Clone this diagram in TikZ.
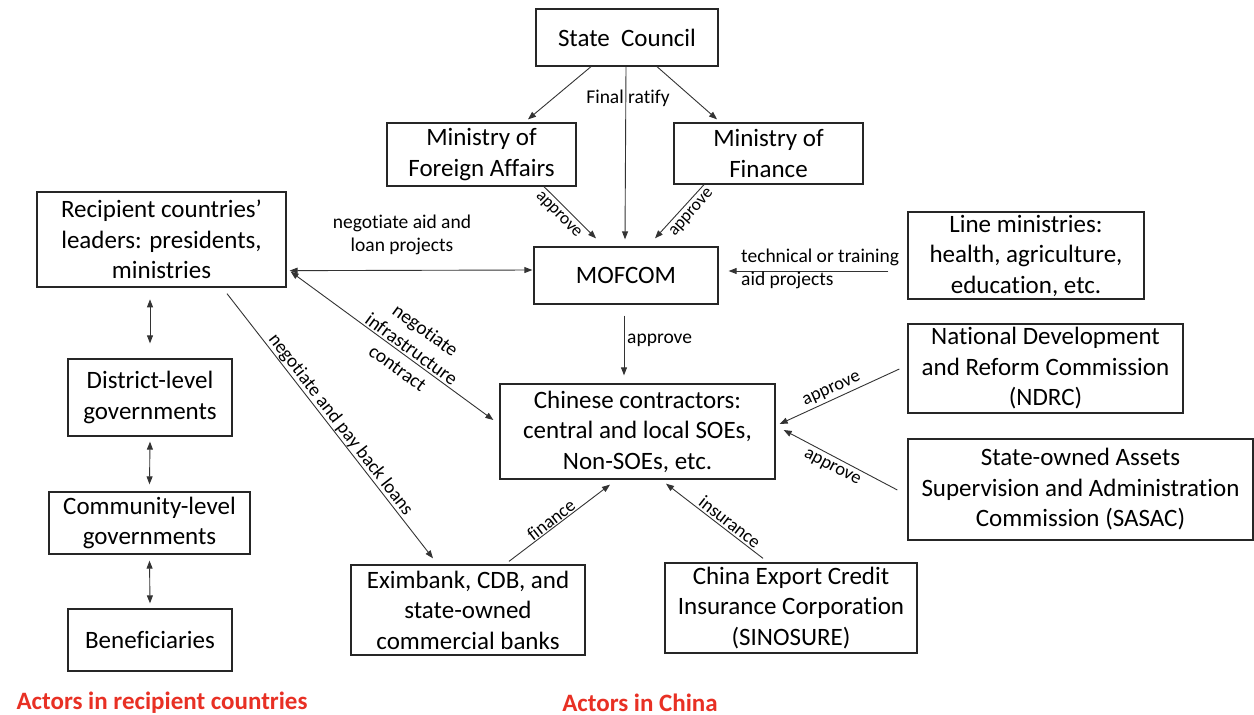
\documentclass[tikz,border=0pt]{standalone}
\usepackage{fontspec}
\setmainfont{Carlito}[Ligatures={NoCommon}]
\usetikzlibrary{calc,arrows.meta}
\definecolor{actred}{RGB}{232,48,36}
\tikzset{
  box/.style={draw=black!85, line width=1.3pt, align=center, inner sep=0pt,
    font=\fontsize{25}{30.5}\selectfont},
  conn/.style={draw=black!80, line width=0.9pt, -{Triangle[length=8pt,width=6pt]}},
  biconn/.style={draw=black!80, line width=0.9pt,
    {Triangle[length=8pt,width=6pt]}-{Triangle[length=8pt,width=6pt]}},
  lbl/.style={font=\fontsize{19.5}{23.5}\selectfont, inner sep=0pt},
  slbl/.style={font=\fontsize{17.5}{21}\selectfont, inner sep=0pt},
  mlbl/.style={font=\fontsize{18.5}{22}\selectfont, inner sep=0pt},
  actor/.style={font=\fontsize{25}{30}\selectfont\bfseries, text=actred, inner sep=0pt},
}
\begin{document}
\begin{tikzpicture}[x=1pt,y=-1pt]
\useasboundingbox (0,0) rectangle (1254,715);
% boxes
\node[box, minimum width=182pt, minimum height=57pt] (sc) at (627,37.5) {State\ \ Council};
\node[box, minimum width=189pt, minimum height=63pt] (mfa) at (481.5,154.5) {Ministry of\\Foreign Affairs};
\node[box, minimum width=189pt, minimum height=61pt] (mof) at (768.5,153.5) {Ministry of\\Finance};
\node[box, minimum width=184pt, minimum height=57pt] (mofcom) at (626,275.5) {MOFCOM};
\node[box, minimum width=249pt, minimum height=95pt] (rec) at (161.5,239.5) {Recipient countries’\\leaders: presidents,\\ministries};
\node[box, minimum width=164pt, minimum height=77pt] (dist) at (150,397.5) {District-level\\governments};
\node[box, minimum width=201pt, minimum height=62pt] (comm) at (149.5,523) {Community-level\\governments};
\node[box, minimum width=164pt, minimum height=62pt] (ben) at (150,640) {Beneficiaries};
\node[box, minimum width=236pt, minimum height=87pt] (line) at (1026,255.5) {Line ministries:\\health, agriculture,\\education, etc.};
\node[box, minimum width=275pt, minimum height=89pt] (ndrc) at (1045.5,368.5) {National Development\\and Reform Commission\\(NDRC)};
\node[box, minimum width=345pt, minimum height=101pt] (sasac) at (1080.5,489.5) {State-owned Assets\\Supervision and Administration\\Commission (SASAC)};
\node[box, minimum width=275pt, minimum height=95pt] (cc) at (637.5,431.5) {Chinese contractors:\\central and local SOEs,\\Non-SOEs, etc.};
\node[box, minimum width=234pt, minimum height=90pt] (exim) at (468,610) {Eximbank, CDB, and\\state-owned\\commercial banks};
\node[box, minimum width=252pt, minimum height=90pt] (sino) at (791,608) {China Export Credit\\Insurance Corporation\\(SINOSURE)};
% connectors
\draw[conn] ($(sc.south)+(-36,0)$) -- ($(mfa.north)+(46.5,-3)$);
\draw[conn] ($(sc.south)+(30,0)$) -- ($(mof.north)+(-51.5,-3)$);
\draw[conn] ($(sc.south)+(-1,0)$) -- ($(mofcom.north)+(-1,-7)$);
\draw[conn] ($(mfa.south)+(62.5,0)$) -- ($(mofcom.north)+(-30,-8)$);
\draw[conn] ($(mof.south)+(-64.5,0)$) -- ($(mofcom.north)+(29,-8)$);
\draw[biconn] ($(rec.south east)+(3,-17)$) -- ($(mofcom.west)+(-1,-5.5)$);
\draw[conn] ($(line.west)+(-19,15.5)$) -- ($(mofcom.east)+(10,-4.5)$);
\draw[conn] ($(mofcom.south)+(-2,11)$) -- ($(cc.north)+(-13.5,-8)$);
\draw[biconn] ($(rec.south east)+(4,-16)$) -- ($(cc.west)+(-6,-11.5)$);
\draw[conn] ($(rec.south)+(65.5,6)$) -- ($(exim.north)+(-35,-6)$);
\draw[conn] ($(exim.north)+(41,-3)$) -- ($(cc.south)+(-27.5,5)$);
\draw[conn] ($(sino.north)+(-28,-4)$) -- ($(cc.south)+(28.5,4)$);
\draw[conn] ($(ndrc.west)+(-8,0.5)$) -- ($(cc.east)+(4,-7.5)$);
\draw[conn] ($(sasac.west)+(-10,0.5)$) -- ($(cc.east)+(8,-1.5)$);
\draw[biconn] ($(dist.north)+(0,-59)$) -- ($(dist.north)+(0,-15)$);
\draw[biconn] ($(dist.south)+(0,5)$) -- ($(comm.north)+(0,-7)$);
\draw[biconn] ($(comm.south)+(0,6)$) -- ($(ben.north)+(0,-5)$);
% labels
\node[lbl] (lfinal) at (628,98) {Final ratify};
\node[slbl, rotate=-45.5] (lapp1) at (558,215) {approve};
\node[slbl, rotate=48.3] (lapp2) at (692,213) {approve};
\node[lbl, align=center] (lneg) at (402,235) {negotiate aid and\\loan projects};
\node[lbl, align=left, anchor=west] (ltech) at (741,269) {technical or training\\aid projects};
\node[lbl, anchor=west] (lapp3) at (627,340) {approve};
\node[lbl, align=center, rotate=-36.1] (linfra) at (411.7,349) {negotiate\\infrastructure\\contract};
\node[lbl, rotate=-52.25, font=\fontsize{19}{23}\selectfont] (lloans) at (340.5,425) {negotiate and pay back loans};
\node[mlbl, rotate=37.7] (lfin) at (551,520) {finance};
\node[mlbl, rotate=-38.1] (lins) at (730,522) {insurance};
\node[mlbl, rotate=24.4] (lapp4) at (832,390) {approve};
\node[mlbl, rotate=-27.5] (lapp5) at (832,468) {approve};
\node[actor] (a1) at (162,703) {Actors in recipient countries};
\node[actor] (a2) at (640,703) {Actors in China};
\end{tikzpicture}
\end{document}
